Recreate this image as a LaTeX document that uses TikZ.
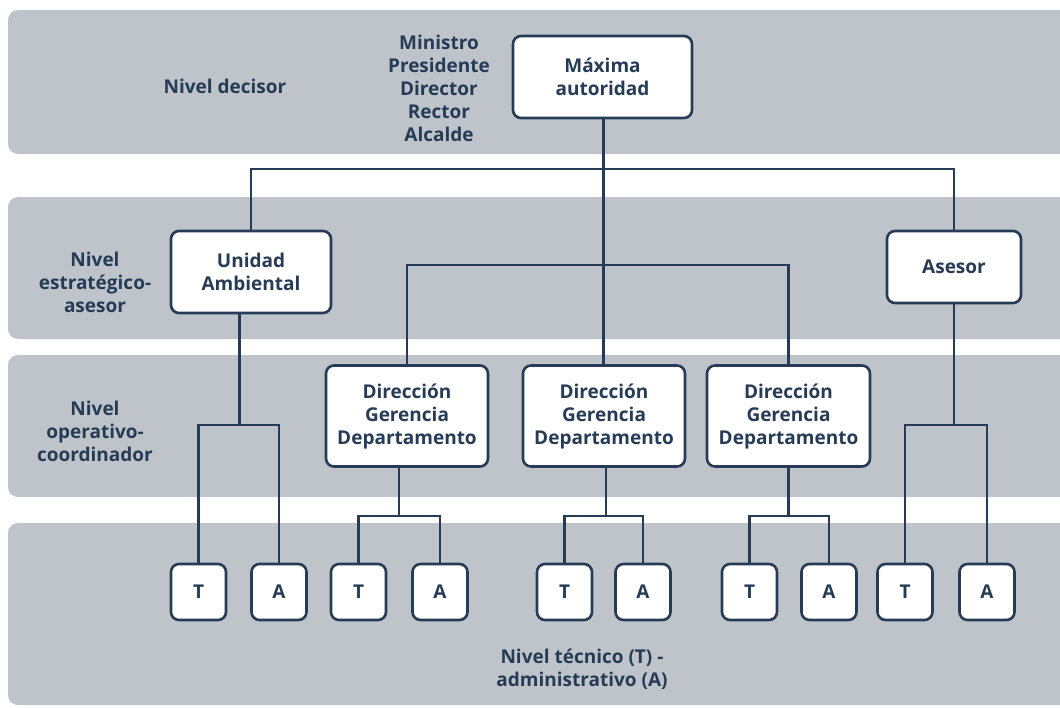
\documentclass[tikz,border=0pt]{standalone}
\usepackage{fontspec}
\setmainfont{Open Sans}
\definecolor{band}{HTML}{BEC4CA}
\definecolor{navy}{HTML}{263C56}
\begin{document}
\begin{tikzpicture}[x=1pt,y=-1pt,
  txt/.style={font=\bfseries\fontsize{19}{23}\selectfont, text=navy, align=center, inner sep=0pt},
  box/.style={txt, draw=navy, line width=2.6pt, fill=white, rounded corners=8pt},
  tabox/.style={box, minimum width=55pt, minimum height=56pt},
  conn/.style={draw=navy, line width=2.6pt}
]
\useasboundingbox (0,0) rectangle (1060,707);
\clip (0,0) rectangle (1060,707);
% bands
\fill[band, rounded corners=10pt] (8,10) rectangle (1080,154);
\fill[band, rounded corners=10pt] (8,197) rectangle (1080,339);
\fill[band, rounded corners=10pt] (8,355) rectangle (1080,497);
\fill[band, rounded corners=10pt] (8,523) rectangle (1080,705);
% level labels
\node[txt] (lv1) at (225,86) {Nivel decisor};
\node[txt] (lvm) at (439,88) {Ministro\\Presidente\\Director\\Rector\\Alcalde};
\node[txt] (lv2) at (95,282) {Nivel\\estratégico-\\asesor};
\node[txt] (lv3) at (95,431) {Nivel\\operativo-\\coordinador};
\node[txt] (lv4) at (582,669) {Nivel técnico (T) -\\administrativo (A)};
% main boxes
\node[box, minimum width=179pt, minimum height=82pt] (M) at (602.5,77) {Máxima\\autoridad};
\node[box, minimum width=160pt, minimum height=82pt] (U) at (251,272) {Unidad\\Ambiental};
\node[box, minimum width=134pt, minimum height=72pt] (As) at (954,267) {Asesor};
\node[box, minimum width=162pt, minimum height=101pt] (D1) at (407,416) {Dirección\\Gerencia\\Departamento};
\node[box, minimum width=162pt, minimum height=101pt] (D2) at (604,416) {Dirección\\Gerencia\\Departamento};
\node[box, minimum width=163pt, minimum height=101pt] (D3) at (788.5,416) {Dirección\\Gerencia\\Departamento};
% T/A boxes
\node[tabox] (T1) at (198.5,592) {T};
\node[tabox] (A1) at (279,592) {A};
\node[tabox] (T2) at (358.5,592) {T};
\node[tabox] (A2) at (440,592) {A};
\node[tabox] (T3) at (564.5,592) {T};
\node[tabox] (A3) at (643,592) {A};
\node[tabox] (T4) at (749.5,592) {T};
\node[tabox] (A4) at (829,592) {A};
\node[tabox] (T5) at (905,592) {T};
\node[tabox] (A5) at (987,592) {A};
% junctions
\coordinate (h1) at (603.5,169);
\coordinate (h2) at (604,265);
\coordinate (j1) at (239.5,425);
\coordinate (j2) at (399,516);
\coordinate (j3) at (606,516);
\coordinate (j4) at (788.5,516);
\coordinate (j5) at (954,425);
% connectors
\draw[conn] (h1 |- M.south) -- (h1 |- D2.north);
\draw[conn] (U.north) |- (h1) -| (As.north);
\draw[conn] (D1.north) |- (h2) -| (D3.north);
\draw[conn] (j1 |- U.south) -- (j1);
\draw[conn] (T1.north) |- (j1) -| (A1.north);
\draw[conn] (j2 |- D1.south) -- (j2);
\draw[conn] (T2.north) |- (j2) -| (A2.north);
\draw[conn] (j3 |- D2.south) -- (j3);
\draw[conn] (T3.north) |- (j3) -| (A3.north);
\draw[conn] (j4 |- D3.south) -- (j4);
\draw[conn] (T4.north) |- (j4) -| (A4.north);
\draw[conn] (As.south) -- (j5);
\draw[conn] (T5.north) |- (j5) -| (A5.north);
\end{tikzpicture}
\end{document}
